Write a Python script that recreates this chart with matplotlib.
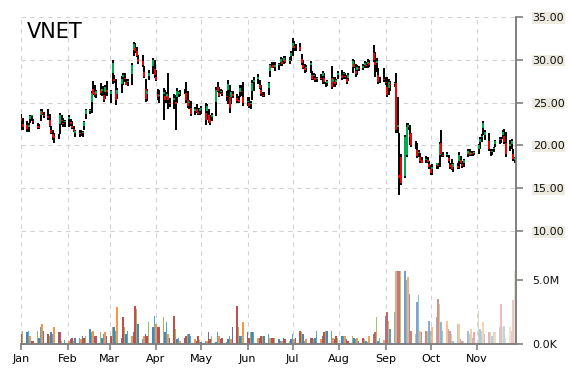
import pandas as pd
import matplotlib
matplotlib.use('Agg')
import matplotlib.pyplot as plt
import matplotlib.dates as mdates
from matplotlib.colors import to_rgba

# trading days shown on the chart
dates = pd.bdate_range('2015-01-01', '2015-11-26')

opens = [
    # Jan
    23.25, 22.55, 22.35, 22.15, 23.05, 23.4, 22.85, 22.25, 22.15, 23.5, 23.9, 23.5, 23.4, 22.95, 21.8, 21.3, 21.05, 21.05, 22.5, 23.0, 22.65, 22.7,
    # Feb
    23.05, 22.75, 22.3, 21.9, 21.45, 21.45, 21.45, 21.45, 22.3, 23.65, 24.05, 25.05, 26.6, 26.25, 26.05, 26.5, 26.4, 25.9, 26.2, 26.5,
    # Mar
    25.95, 28.45, 27.75, 26.5, 26.05, 27.15, 28.0, 27.9, 27.4, 27.35, 28.35, 31.2, 31.4, 31.0, 30.1, 29.85, 28.6, 26.55, 26.0, 28.15, 29.25, 28.9,
    # Apr
    28.0, 26.05, 25.75, 26.0, 25.75, 25.7, 25.75, 25.0, 25.25, 25.1, 25.7, 26.0, 26.05, 26.3, 26.15, 25.3, 24.9, 24.35, 24.05, 24.25, 23.85, 24.0,
    # May
    24.25, 23.75, 24.05, 23.5, 23.0, 23.3, 25.05, 26.85, 26.15, 26.25, 26.15, 25.8, 26.5, 25.6, 25.6, 25.95, 25.5, 25.35, 26.25, 26.4, 25.65,
    # Jun
    25.1, 25.0, 24.8, 26.35, 27.4, 27.8, 27.05, 26.5, 25.9, 25.95, 26.65, 28.75, 29.25, 29.4, 29.2, 29.35, 29.8, 29.75, 29.9, 30.0, 29.85, 30.45,
    # Jul
    31.35, 31.6, 31.45, 31.55, 30.1, 29.4, 29.0, 29.05, 29.4, 28.2, 28.1, 27.9, 27.75, 27.9, 28.15, 27.85, 27.1, 27.25, 27.9, 27.4, 27.4, 27.45, 28.2,
    # Aug
    28.2, 28.3, 28.15, 27.7, 27.9, 29.2, 29.5, 28.75, 28.8, 29.05, 29.1, 29.45, 29.45, 29.55, 29.6, 30.8, 29.7, 29.6, 28.2, 27.7, 27.8,
    # Sep
    27.45, 26.85, 26.7, 27.2, 27.15, 27.3, 22.2, 16.6, 18.7, 16.4, 18.9, 22.2, 21.2, 21.4, 20.15, 19.5, 19.1, 18.6, 18.3, 18.3, 18.25, 17.8,
    # Oct
    17.2, 17.2, 17.7, 17.75, 18.9, 20.3, 18.9, 18.9, 18.5, 17.75, 17.8, 17.45, 17.6, 18.2, 18.3, 17.8, 17.95, 19.0, 19.2, 19.0, 19.1, 19.1,
    # Nov
    19.6, 20.4, 20.95, 22.0, 21.2, 20.5, 19.4, 19.25, 19.55, 20.15, 20.6, 20.7, 21.2, 21.15, 20.25, 19.9, 20.15, 19.0, 18.25,
]
highs = [
    23.7, 23.2, 22.9, 22.6, 23.5, 23.6, 23.1, 22.6, 22.5, 24.2, 24.2, 23.9, 24.2, 23.7, 22.3, 21.8, 21.5, 21.3, 23.8, 23.5, 23.2, 23.0,
    23.6, 23.1, 22.8, 22.3, 21.8, 21.8, 21.8, 21.7, 22.8, 24.2, 24.3, 26.3, 27.5, 27.0, 26.5, 27.3, 26.9, 26.9, 27.0, 27.5,
    26.5, 30.0, 28.2, 27.8, 26.7, 28.1, 28.5, 28.4, 27.8, 27.8, 29.6, 32.1, 32.0, 31.5, 30.6, 30.6, 29.3, 27.8, 26.6, 28.8, 30.2, 30.0,
    28.8, 26.6, 26.5, 26.7, 26.5, 26.2, 28.4, 25.5, 26.0, 25.9, 26.7, 26.4, 26.5, 26.6, 27.4, 26.4, 25.3, 25.2, 24.5, 24.8, 24.4, 24.4,
    24.6, 25.0, 24.8, 24.2, 23.6, 23.8, 26.8, 27.4, 26.8, 26.6, 26.5, 26.4, 27.6, 27.0, 26.3, 26.3, 26.0, 25.8, 27.0, 27.0, 27.4,
    25.6, 25.6, 25.2, 27.6, 28.0, 28.3, 27.6, 27.1, 26.2, 26.2, 27.4, 29.5, 29.7, 29.7, 29.7, 29.6, 30.3, 30.2, 30.5, 30.4, 30.3, 31.0,
    32.5, 32.2, 31.8, 32.0, 30.7, 30.0, 29.5, 29.4, 29.9, 28.7, 28.4, 28.3, 28.0, 28.3, 28.7, 28.4, 27.4, 27.6, 29.3, 28.0, 28.0, 27.8, 28.7,
    28.8, 28.6, 28.4, 28.2, 28.4, 30.1, 30.0, 29.5, 29.4, 29.3, 29.5, 29.9, 29.8, 30.1, 30.0, 31.7, 30.9, 30.2, 29.1, 28.0, 29.1,
    28.0, 28.0, 27.8, 27.5, 27.4, 28.4, 25.7, 21.4, 19.0, 21.2, 22.6, 22.6, 22.4, 21.5, 20.5, 20.3, 19.5, 19.1, 18.7, 18.8, 18.6, 18.2,
    17.7, 17.8, 18.0, 18.0, 20.4, 21.8, 19.2, 19.2, 18.9, 18.0, 18.4, 18.0, 18.0, 19.2, 18.8, 18.2, 18.4, 19.6, 19.6, 19.3, 19.4, 19.3,
    20.2, 21.0, 21.3, 22.9, 21.8, 21.4, 19.6, 19.6, 19.8, 20.6, 21.0, 21.0, 21.8, 21.9, 21.6, 20.6, 20.8, 19.6, 18.6,
]
lows = [
    21.8, 21.8, 21.6, 21.6, 22.6, 22.9, 22.5, 21.9, 21.9, 22.9, 23.5, 23.2, 23.0, 22.2, 21.3, 20.6, 20.3, 20.7, 21.3, 22.4, 22.2, 22.2,
    22.2, 22.3, 21.9, 21.6, 21.0, 21.0, 21.1, 21.0, 21.8, 23.1, 23.7, 23.8, 25.9, 25.7, 25.5, 25.9, 25.8, 25.1, 25.4, 25.8,
    25.0, 27.2, 27.3, 24.7, 25.4, 26.1, 27.0, 27.4, 27.0, 26.9, 27.1, 30.4, 30.8, 30.3, 29.5, 29.2, 27.9, 25.1, 25.2, 27.6, 28.3, 27.9,
    27.5, 25.3, 25.0, 23.0, 25.0, 25.0, 24.2, 24.5, 24.2, 21.8, 25.0, 25.7, 25.8, 26.0, 25.0, 24.4, 24.3, 23.4, 23.5, 23.8, 23.6, 23.6,
    23.7, 22.4, 23.0, 22.6, 22.4, 22.9, 23.4, 26.2, 25.6, 26.0, 25.8, 25.2, 24.8, 23.8, 24.8, 25.5, 25.0, 24.9, 25.6, 25.8, 24.6,
    24.6, 24.4, 24.2, 25.3, 26.4, 27.2, 26.6, 25.8, 25.6, 25.6, 25.9, 28.0, 29.0, 29.0, 28.7, 28.8, 29.3, 29.3, 29.5, 29.6, 29.5, 29.9,
    30.5, 31.0, 31.0, 31.0, 29.4, 28.9, 28.5, 28.6, 28.5, 27.6, 27.6, 27.4, 27.4, 27.6, 27.2, 27.2, 26.8, 26.9, 26.6, 26.8, 26.8, 27.0, 27.8,
    27.6, 27.8, 27.8, 27.2, 27.5, 28.4, 29.0, 28.0, 28.2, 28.7, 28.8, 29.1, 29.1, 29.0, 29.2, 29.7, 28.0, 28.6, 27.2, 27.3, 27.4,
    27.0, 25.7, 25.9, 26.4, 26.8, 21.4, 21.4, 14.2, 15.4, 16.2, 18.7, 21.8, 20.0, 19.8, 19.6, 18.5, 18.6, 17.9, 17.9, 18.0, 18.0, 17.3,
    16.5, 16.6, 17.3, 17.3, 17.5, 18.6, 18.6, 18.6, 18.0, 17.3, 17.1, 16.9, 17.2, 17.3, 17.8, 17.4, 17.5, 18.6, 18.8, 18.8, 18.8, 18.9,
    19.0, 19.6, 20.4, 21.2, 20.6, 19.4, 18.8, 18.9, 19.2, 19.8, 20.2, 20.3, 20.8, 20.2, 18.6, 19.4, 19.6, 18.2, 17.9,
]
closes = [
    22.9, 22.2, 21.9, 22.4, 23.4, 23.5, 22.7, 22.0, 22.0, 24.0, 23.7, 23.4, 23.2, 22.3, 21.4, 21.0, 20.9, 21.1, 23.6, 22.8, 22.5, 22.9,
    23.3, 22.5, 22.0, 21.7, 21.7, 21.3, 21.5, 21.6, 22.7, 24.1, 24.1, 26.1, 26.0, 25.9, 26.4, 26.1, 26.6, 25.3, 26.8, 26.2,
    26.3, 29.6, 27.5, 25.3, 26.5, 27.8, 28.2, 27.7, 27.1, 27.5, 29.4, 31.8, 31.0, 30.5, 29.7, 29.4, 28.0, 25.4, 26.4, 28.5, 30.0, 28.2,
    27.6, 25.6, 25.9, 26.2, 25.3, 26.0, 25.3, 24.8, 25.5, 24.8, 26.4, 26.2, 26.0, 26.4, 25.3, 24.6, 25.1, 23.7, 24.3, 23.9, 23.7, 24.2,
    24.4, 23.0, 24.6, 22.8, 22.6, 23.6, 26.5, 26.4, 25.8, 26.3, 26.0, 25.6, 27.2, 24.4, 26.2, 25.8, 25.2, 25.1, 26.7, 26.2, 25.0,
    25.2, 24.6, 25.0, 27.3, 27.6, 28.0, 26.7, 26.0, 25.8, 26.0, 27.3, 29.4, 29.1, 29.2, 29.4, 29.5, 30.1, 29.5, 30.2, 29.8, 30.0, 30.8,
    32.0, 31.4, 31.5, 31.1, 29.6, 29.0, 28.8, 29.2, 29.6, 27.8, 28.2, 27.6, 27.9, 27.8, 28.5, 27.4, 27.0, 27.5, 26.8, 27.8, 27.2, 27.6, 28.5,
    27.9, 28.4, 28.0, 27.4, 28.2, 29.9, 29.2, 28.3, 29.2, 28.9, 29.3, 29.6, 29.3, 29.8, 29.4, 30.0, 29.4, 29.9, 27.4, 27.8, 27.6,
    27.3, 25.9, 27.4, 27.0, 27.3, 21.8, 22.4, 16.2, 15.6, 21.0, 22.2, 22.4, 21.0, 20.0, 20.2, 18.8, 19.2, 18.2, 18.0, 18.4, 18.1, 17.5,
    16.8, 17.5, 17.9, 17.6, 20.2, 19.0, 18.8, 19.0, 18.2, 17.5, 17.3, 17.8, 17.4, 18.9, 18.0, 17.6, 18.3, 19.4, 18.9, 19.1, 19.0, 19.2,
    20.0, 20.8, 21.1, 22.6, 21.6, 19.6, 19.2, 19.3, 19.7, 20.5, 20.8, 20.6, 21.6, 20.4, 19.0, 20.2, 20.5, 18.4, 18.5,
]
# volume in millions (the panel clips the tallest bars)
volumes = [
    0.8, 1.0, 0.9, 1.0, 0.65, 0.25, 0.25, 1.0, 0.5, 1.3, 1.55, 1.0, 0.8, 0.65, 0.9, 0.8, 1.3, 0.9, 0.9, 0.25, 0.1, 0.3,
    0.25, 0.4, 0.5, 0.25, 0.5, 0.5, 0.4, 0.65, 0.5, 0.65, 1.15, 0.9, 1.0, 0.65, 0.65, 0.9, 0.5, 0.8, 0.9, 0.65,
    0.65, 1.3, 1.3, 1.0, 2.9, 0.5, 2.1, 1.3, 0.8, 1.0, 0.65, 0.9, 3.0, 2.7, 1.55, 0.4, 0.65, 0.8, 0.65, 1.7, 1.3, 2.2,
    1.55, 1.3, 1.3, 2.1, 0.9, 1.7, 0.8, 0.5, 2.2, 1.15, 0.4, 0.5, 0.25, 0.5, 0.65, 0.8, 0.8, 0.65, 0.4, 0.25, 0.6, 0.3,
    0.15, 0.25, 0.25, 0.9, 0.4, 0.65, 0.15, 0.9, 0.65, 0.4, 0.5, 0.15, 0.4, 0.65, 0.4, 1.3, 3.0, 1.3, 0.65, 0.65, 1.7,
    0.9, 0.5, 0.9, 0.9, 0.9, 0.5, 0.5, 0.65, 0.65, 0.65, 0.8, 0.5, 0.5, 0.5, 0.5, 0.4, 0.25, 0.25, 0.5, 0.4, 0.25, 0.4,
    0.8, 0.4, 0.5, 1.0, 0.9, 0.8, 0.25, 0.4, 0.5, 0.5, 0.4, 0.5, 1.0, 0.4, 0.65, 0.9, 1.0, 1.0, 1.0, 0.5, 0.4, 0.65, 0.5,
    0.65, 0.65, 0.65, 0.4, 0.25, 0.65, 0.5, 0.4, 0.5, 0.25, 0.5, 0.4, 0.25, 0.15, 0.65, 0.8, 0.9, 2.1, 0.25, 0.5, 0.3,
    2.2, 2.5, 1.8, 1.2, 2.5, 5.7, 5.7, 5.7, 5.7, 5.7, 5.0, 5.2, 3.9, 1.0, 0.8, 3.3, 3.8, 1.0, 0.9, 1.0, 1.0, 1.8,
    1.0, 1.3, 2.1, 3.5, 3.1, 1.7, 1.0, 1.8, 1.2, 1.0, 0.8, 0.25, 1.55, 1.55, 0.4, 0.25, 0.25, 1.0, 0.8, 1.2, 0.5, 0.9,
    2.6, 1.2, 1.0, 1.7, 0.8, 0.9, 0.9, 0.65, 0.9, 0.9, 1.3, 3.1, 1.3, 1.4, 0.5, 1.3, 1.0, 3.4, 5.7,
]
price_ticks = [10, 15, 20, 25, 30, 35]

x = dates.to_pydatetime()

fig = plt.figure(figsize=(5.7, 3.7), dpi=100)
ax = fig.add_axes([21 / 570, 1 - 344 / 370, 495 / 570, 327 / 370])
axv = ax.twinx()

# volume bars, colours cycle and fade out towards the end
palette = ['#c0504d', '#9bbb59', '#4f81bd', '#4bacc6', '#f79646', '#8064a2']
fade_start = pd.Timestamp('2015-08-10')
n_fade = (dates >= fade_start).sum()
bar_cols = []
k = 0
for i, d in enumerate(dates):
    a = 1.0
    if d >= fade_start:
        a = 1.0 - 0.7 * k / max(n_fade - 1, 1)
        k += 1
    bar_cols.append(to_rgba(palette[i % len(palette)], a))
axv.bar(x, volumes, width=0.9, color=bar_cols, zorder=1)
axv.set_ylim(0, 25.55)
axv.set_yticks([0, 5])
axv.set_yticklabels(['0.0K', '5.0M'])

# candles
up = [c >= o for o, c in zip(opens, closes)]
body_cols = ['#00b050' if u else '#ff0000' for u in up]
ax.vlines(x, lows, highs, color='black', lw=1.4, zorder=3)
ax.vlines(x, opens, closes, colors=body_cols, lw=1.4, zorder=4)
ax.set_ylim(-3.2, 35)
ax.set_yticks(price_ticks)
ax.set_yticklabels(['%.2f' % t for t in price_ticks])
ax.yaxis.tick_right()

ax.set_xlim(pd.Timestamp('2015-01-01'), pd.Timestamp('2015-11-27'))
ax.xaxis.set_major_locator(mdates.MonthLocator())
ax.xaxis.set_major_formatter(mdates.DateFormatter('%b'))

ax.grid(True, ls=(0, (4, 4)), color='#d2d2d2', lw=0.8, zorder=0)
ax.set_axisbelow(True)

for a_ in (ax, axv):
    for s in ['left', 'top']:
        a_.spines[s].set_visible(False)
    for s in ['right', 'bottom']:
        a_.spines[s].set_color('#808080')
        a_.spines[s].set_linewidth(1.2)
    a_.tick_params(axis='y', direction='out', length=5, color='#808080', width=1.2,
                   labelsize=8, pad=7, labelcolor='#111111')
ax.tick_params(axis='x', direction='out', length=4, color='#808080', width=1.2,
               labelsize=8, pad=3)
axv.tick_params(axis='x', length=0)

for lbl in ax.get_yticklabels():
    lbl.set_bbox(dict(facecolor='#edebe0', edgecolor='none', pad=0.4))

fig.text(27 / 570, 1 - 32 / 370, 'VNET', fontsize=15, va='center', ha='left')

fig.savefig('out.png', dpi=100)
